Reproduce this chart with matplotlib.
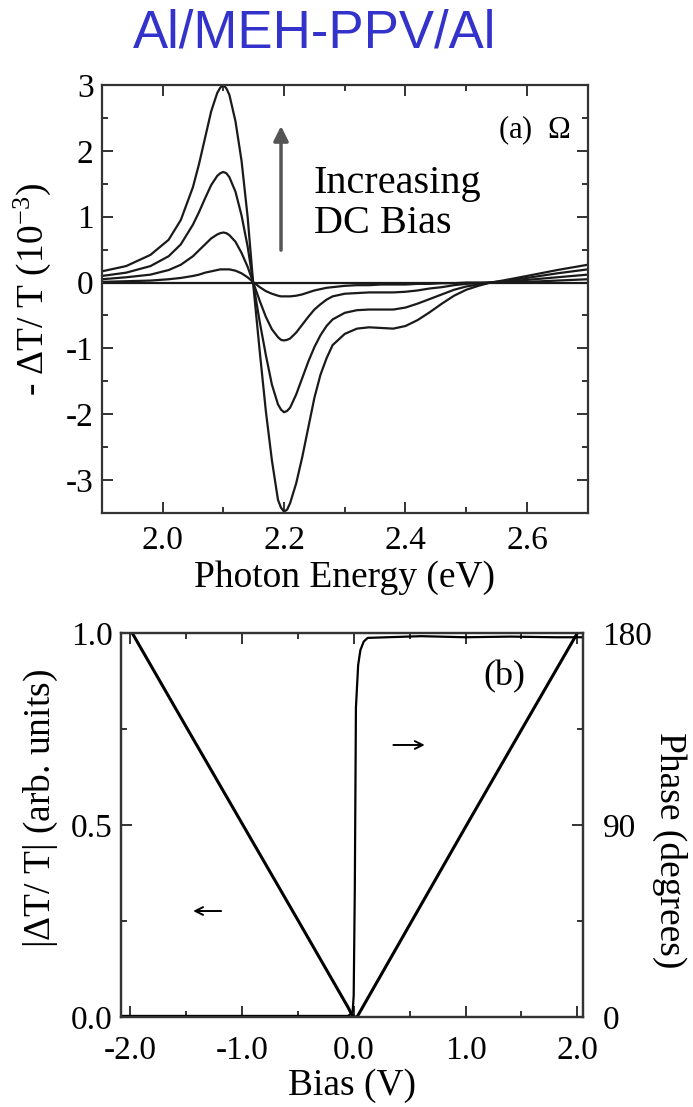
import matplotlib
matplotlib.use('Agg')
import matplotlib.pyplot as plt
from matplotlib.ticker import MultipleLocator, FormatStrFormatter

plt.rcParams['font.family'] = ['Liberation Serif', 'DejaVu Serif']
plt.rcParams['mathtext.fontset'] = 'custom'
plt.rcParams['mathtext.rm'] = 'Liberation Serif'
plt.rcParams['mathtext.it'] = 'Liberation Serif:italic'
plt.rcParams['axes.unicode_minus'] = False

# (a) photon energy spectra at increasing DC bias
energy = [1.90, 1.94, 1.98, 2.01, 2.03, 2.05, 2.06, 2.07, 2.08, 2.09, 2.095, 2.10, 2.105, 2.11,
          2.12, 2.13, 2.14, 2.15, 2.16, 2.17, 2.18, 2.19, 2.195, 2.20, 2.205, 2.21, 2.22, 2.23,
          2.24, 2.25, 2.26, 2.27, 2.28, 2.30, 2.32, 2.34, 2.36, 2.38, 2.40, 2.42,
          2.44, 2.46, 2.48, 2.50, 2.52, 2.54, 2.56, 2.60, 2.65, 2.70]
dt_bias0 = [0.0] * len(energy)
dt_bias1 = [0.01, 0.02, 0.03, 0.05, 0.07, 0.10, 0.12, 0.15, 0.17, 0.19, 0.20, 0.20, 0.20, 0.20,
            0.18, 0.14, 0.08, 0.00, -0.07, -0.13, -0.17, -0.20, -0.21, -0.21, -0.21, -0.21, -0.20, -0.18,
            -0.15, -0.12, -0.10, -0.08, -0.07, -0.05, -0.04, -0.04, -0.03, -0.03, -0.03, -0.02,
            -0.02, -0.01, -0.01, 0.00, 0.00, 0.00, 0.00, 0.01, 0.03, 0.05]
dt_bias2 = [0.05, 0.08, 0.12, 0.19, 0.27, 0.40, 0.49, 0.58, 0.67, 0.73, 0.75, 0.76, 0.75, 0.72,
            0.62, 0.45, 0.24, -0.02, -0.28, -0.52, -0.71, -0.83, -0.87, -0.88, -0.87, -0.85, -0.76, -0.64,
            -0.52, -0.41, -0.33, -0.26, -0.21, -0.17, -0.16, -0.15, -0.15, -0.15, -0.14, -0.12,
            -0.09, -0.07, -0.04, -0.02, -0.01, 0.00, 0.01, 0.04, 0.08, 0.12]
dt_bias3 = [0.10, 0.15, 0.25, 0.40, 0.58, 0.88, 1.07, 1.28, 1.48, 1.62, 1.66, 1.68, 1.66, 1.60,
            1.38, 1.02, 0.55, -0.05, -0.60, -1.10, -1.55, -1.85, -1.93, -1.97, -1.95, -1.90, -1.70, -1.45,
            -1.20, -0.98, -0.80, -0.66, -0.56, -0.46, -0.42, -0.41, -0.41, -0.41, -0.38, -0.32,
            -0.25, -0.18, -0.11, -0.06, -0.03, 0.00, 0.02, 0.07, 0.14, 0.20]
dt_bias4 = [0.17, 0.25, 0.42, 0.65, 0.95, 1.45, 1.80, 2.20, 2.60, 2.88, 2.96, 3.00, 2.95, 2.85,
            2.45, 1.85, 1.00, -0.10, -1.05, -1.95, -2.70, -3.30, -3.42, -3.48, -3.45, -3.35, -3.05, -2.65,
            -2.20, -1.75, -1.40, -1.15, -0.95, -0.78, -0.70, -0.68, -0.69, -0.70, -0.66, -0.57,
            -0.45, -0.32, -0.20, -0.11, -0.05, 0.00, 0.03, 0.10, 0.19, 0.27]

# (b) amplitude and phase vs bias
bias_amp = [-1.98, -1.5, -1.0, -0.5, -0.05, -0.02, 0.0, 0.03, 0.5, 1.0, 1.5, 2.0]
amp = [1.0, 0.757, 0.505, 0.253, 0.025, 0.008, 0.0, 0.0, 0.24, 0.495, 0.748, 1.0]
bias_phase = [-2.08, -1.0, -0.05, -0.01, 0.0, 0.01, 0.02, 0.04, 0.06, 0.09, 0.125,
              0.3, 0.6, 1.0, 1.4, 1.8, 2.05]
phase = [0.5, 0.5, 0.5, 2, 10, 60, 145, 165, 172, 176, 177.7,
         178, 178.5, 178, 178.3, 178, 178]

fig = plt.figure(figsize=(6.93, 11.07), dpi=100)
fig.text(315 / 693, 1 - 33 / 1107, 'Al/MEH-PPV/Al', color='#3333cc', fontsize=38,
         family=['Liberation Sans', 'DejaVu Sans'], ha='center', va='center')

lc = '#1a1a1a'
ax1 = fig.add_axes([0.147, 0.5366, 0.701, 0.3866])
for s in [dt_bias0, dt_bias1, dt_bias2, dt_bias3, dt_bias4]:
    ax1.plot(energy, s, color=lc, lw=1.6)
ax1.set_xlim(1.9, 2.7)
ax1.set_ylim(-3.5, 3)
ax1.xaxis.set_major_locator(MultipleLocator(0.2))
ax1.xaxis.set_minor_locator(MultipleLocator(0.1))
ax1.xaxis.set_major_formatter(FormatStrFormatter('%.1f'))
ax1.yaxis.set_major_locator(MultipleLocator(1))
ax1.yaxis.set_minor_locator(MultipleLocator(0.5))
ax1.set_xlabel('Photon Energy (eV)', fontsize=27, labelpad=3)
ax1.set_ylabel(r'- $\Delta$T/ T (10$^{-3}$)', fontsize=27)
ax1.yaxis.set_label_coords(-0.1, 0.523)
ax1.annotate('', xy=(2.195, 2.42), xytext=(2.195, 0.45),
             arrowprops=dict(arrowstyle='-|>', color='#555555', lw=2.5, mutation_scale=22))
ax1.text(2.249, 1.2, 'Increasing\nDC Bias', fontsize=29, ha='left', va='center',
         linespacing=1.12)
ax1.text(2.672, 2.32, r'(a)  $\Omega$', fontsize=22, ha='right', va='center')

ax2 = fig.add_axes([0.1746, 0.0813, 0.6667, 0.3469])
ax2.plot(bias_amp, amp, color='black', lw=2.2)
ax2.set_xlim(-2.08, 2.05)
ax2.set_ylim(0, 1.0)
ax2.xaxis.set_major_locator(MultipleLocator(1))
ax2.xaxis.set_minor_locator(MultipleLocator(0.5))
ax2.xaxis.set_major_formatter(FormatStrFormatter('%.1f'))
ax2.yaxis.set_major_locator(MultipleLocator(0.5))
ax2.yaxis.set_minor_locator(MultipleLocator(0.25))
ax2.yaxis.set_major_formatter(FormatStrFormatter('%.1f'))
ax2.set_xlabel('Bias (V)', fontsize=27, labelpad=2)
ax2.set_ylabel(r'|$\Delta$T/ T| (arb. units)', fontsize=27)
ax2.yaxis.set_label_coords(-0.132, 0.544)

ax3 = ax2.twinx()
ax3.plot(bias_phase, phase, color='black', lw=1.6)
ax3.set_ylim(0, 180)
ax3.yaxis.set_major_locator(MultipleLocator(90))
ax3.yaxis.set_minor_locator(MultipleLocator(45))
ax3.set_ylabel('Phase (degrees)', fontsize=27, rotation=-90, va='bottom',
               ha='center', rotation_mode='anchor')
ax3.yaxis.set_label_coords(1.149, 0.435)

ax2.text(1.35, 0.885, '(b)', fontsize=26, ha='center', va='center')
ax2.annotate('', xy=(-1.46, 0.276), xytext=(-1.16, 0.276),
             arrowprops=dict(arrowstyle='->', color='black', lw=1.4, mutation_scale=14))
ax3.annotate('', xy=(0.66, 127.5), xytext=(0.33, 127.5),
             arrowprops=dict(arrowstyle='->', color='black', lw=1.4, mutation_scale=14))

for ax in [ax1, ax2, ax3]:
    for sp in ax.spines.values():
        sp.set_linewidth(1.6)
        sp.set_color('#333333')
    ax.tick_params(which='both', direction='in', labelsize=24, width=1.4, color='#333333')
    ax.tick_params(which='major', length=8, pad=6)
    ax.tick_params(which='minor', length=4)
ax1.tick_params(which='both', top=True, right=True)
ax1.tick_params(axis='x', which='major', pad=9)
ax2.tick_params(which='both', top=True)
ax2.tick_params(axis='x', which='major', pad=13)
ax3.tick_params(axis='y', which='major', pad=14)

fig.savefig('out.png', dpi=100)
